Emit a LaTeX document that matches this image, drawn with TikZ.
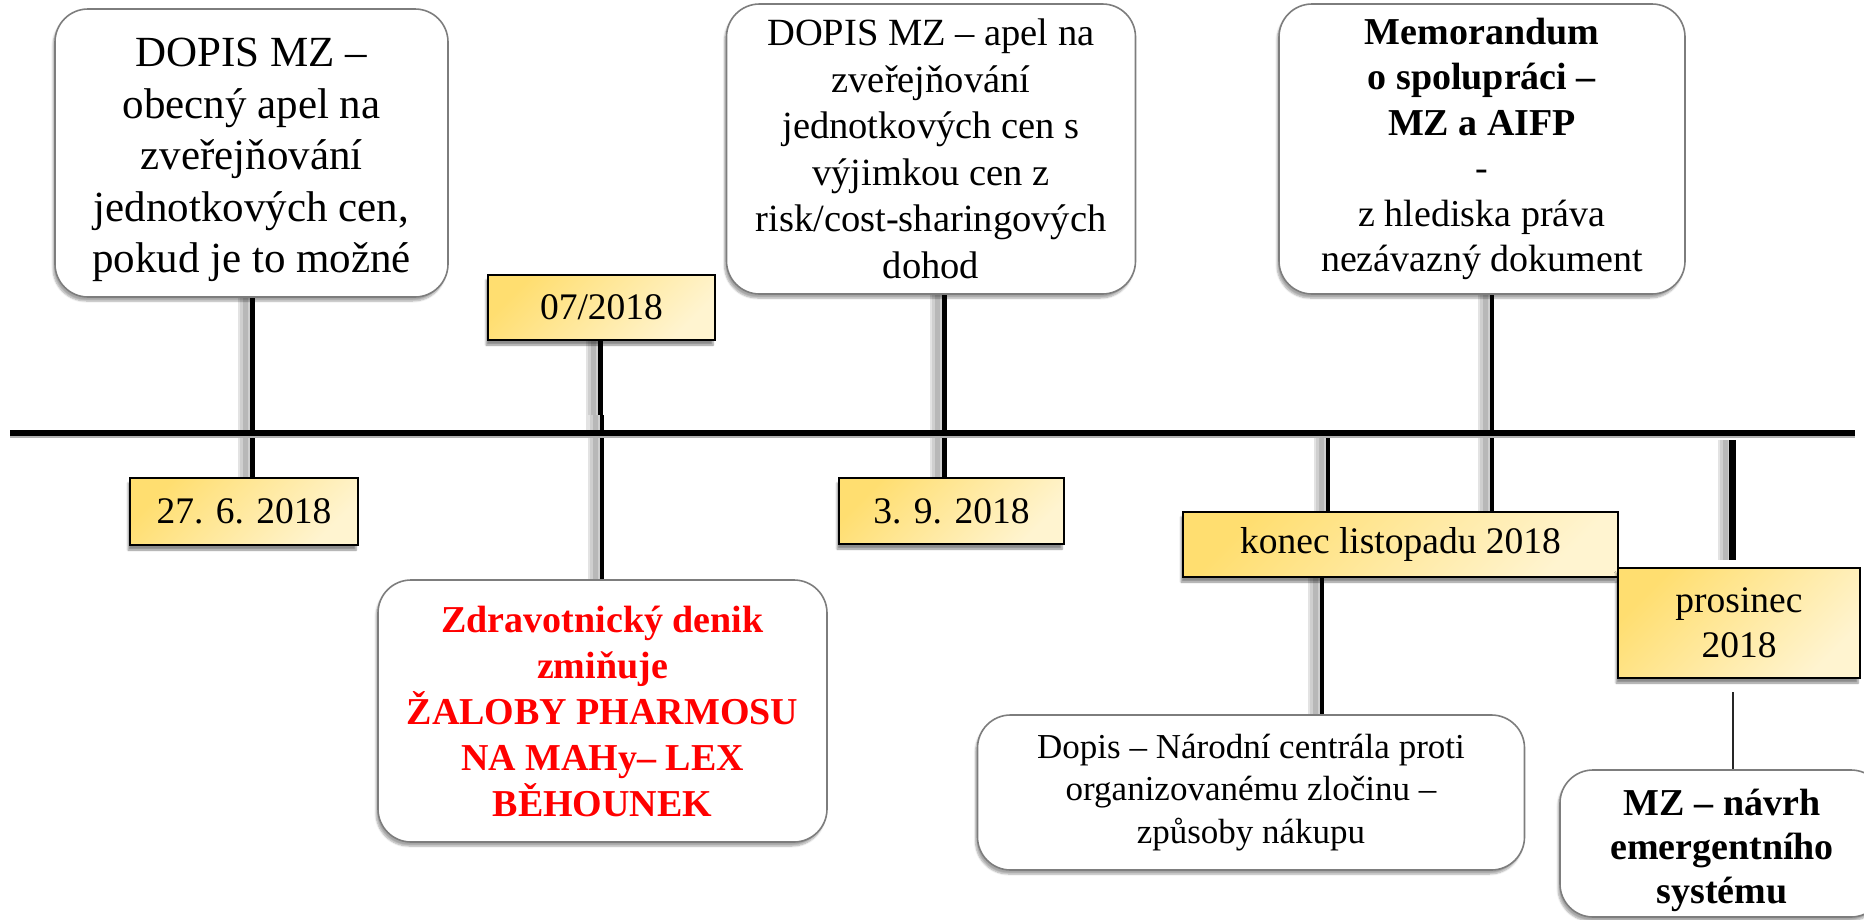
\documentclass[tikz,border=0pt]{standalone}
\usepackage{fontspec}
\setmainfont{Liberation Serif}
\usetikzlibrary{shadows.blur,backgrounds}
\definecolor{datetop}{RGB}{255,222,112}
\definecolor{datebot}{RGB}{255,244,208}
\definecolor{boxgray}{RGB}{125,125,125}
\definecolor{zred}{RGB}{255,0,0}
\tikzset{
  eventbox/.style={draw=boxgray, line width=1.6pt, fill=white, rounded corners=33pt,
    align=center, inner sep=0pt,
    blur shadow={shadow xshift=-2pt, shadow yshift=-4pt, shadow blur steps=6, shadow opacity=35}},
  boxtext/.style={align=center, inner sep=0pt},
  datebox/.style={draw=black, line width=2pt, top color=datetop, bottom color=datebot,
    shading angle=45, align=center, inner sep=0pt,
    blur shadow={shadow xshift=-2pt, shadow yshift=-5pt, shadow blur steps=6, shadow opacity=45},
    font=\fontsize{37.5}{45}\selectfont},
  conn/.style={line width=#1, black,
    preaction={draw=black!11, line width=15pt, transform canvas={xshift=-7pt}},
    preaction={draw=black!19, line width=10pt, transform canvas={xshift=-7pt}},
    preaction={draw=black!28, line width=5pt, transform canvas={xshift=-7pt}}},
  conn/.default=5pt,
  mainline/.style={line width=6pt, black,
    preaction={draw=black!30, line width=6pt, transform canvas={yshift=-2pt}}}
}
\begin{document}
\begin{tikzpicture}[x=1pt, y=-1pt]
\useasboundingbox (0,0) rectangle (1864,919);

% upper event boxes
\node[eventbox, minimum width=393pt, minimum height=288pt] (b1) at (251.5,153) {};
\node[boxtext, font=\fontsize{43}{51.6}\selectfont] (b1t) at (251.5,160)
  {DOPIS MZ –\\obecný apel na\\zveřejňování\\jednotkových cen,\\pokud je to možné};
\node[eventbox, minimum width=409pt, minimum height=290pt,
  font=\fontsize{38.5}{46.5}\selectfont] (b2) at (931,149)
  {DOPIS MZ – apel na\\zveřejňování\\jednotkových cen s\\výjimkou cen z\\risk/cost-sharingových\\dohod};
\node[eventbox, minimum width=406pt, minimum height=290pt,
  font=\fontsize{38}{45.5}\selectfont] (b3) at (1482,149)
  {\textbf{Memorandum}\\\textbf{o spolupráci –}\\\textbf{MZ a AIFP}\\-\\z hlediska práva\\nezávazný dokument};

% lower event boxes
\node[eventbox, minimum width=449pt, minimum height=262pt, text=zred,
  font=\bfseries\fontsize{38}{46}\selectfont] (z) at (602.5,711)
  {Zdravotnický denik\\zmiňuje\\ŽALOBY PHARMOSU\\NA MAHy– LEX\\BĚHOUNEK};
\node[eventbox, minimum width=547pt, minimum height=155pt,
  font=\fontsize{35}{42.5}\selectfont] (b4) at (1251,792.5)
  {Dopis – Národní centrála proti\\organizovanému zločinu –\\způsoby nákupu};
\node[eventbox, minimum width=324pt, minimum height=147pt] (b5) at (1722,843.5) {};
\node[boxtext, font=\bfseries\fontsize{38}{44}\selectfont] (b5t) at (1722,850)
  {MZ – návrh\\emergentního\\systému};

% date boxes
\node[datebox, minimum width=228pt, minimum height=67pt] (d0) at (244,511.5) {27. 6. 2018};
\node[datebox, minimum width=227pt, minimum height=65pt] (d1) at (601.5,307.5) {07/2018};
\node[datebox, minimum width=225pt, minimum height=66pt] (d2) at (951.5,511) {3. 9. 2018};
\node[datebox, minimum width=435pt, minimum height=65pt] (d3) at (1400.5,544.5) {konec listopadu 2018};
\node[datebox, minimum width=242pt, minimum height=110pt] (d4) at (1739,623) {prosinec\\2018};

% coordinates
\coordinate (L) at (10,433);
\coordinate (R) at (1855,433);
\coordinate (c0) at (252,433);
\coordinate (c1) at (600,433);
\coordinate (c1b) at (602,415);
\coordinate (c2) at (944,433);
\coordinate (c3) at (1328,433);
\coordinate (c3b) at (1322,433);
\coordinate (c4) at (1492,433);
\coordinate (c5top) at (1732,440);
\coordinate (c5bot) at (1732,560);
\coordinate (c6) at (1733,692);

\begin{scope}[on background layer]
\draw[conn] (c0 |- b1.south) -- (c0 |- d0.north);
\draw[conn] (c1 |- d1.south) -- (c1);
\draw[conn=4pt] (c1b) -- (c1b |- z.north);
\draw[conn] (c2 |- b2.south) -- (c2 |- d2.north);
\draw[conn=4pt] (c3) -- (c3 |- d3.north);
\draw[conn=4pt] (c4 |- b3.south) -- (c4 |- d3.north);
\draw[conn=4pt] (c3b |- d3.south) -- (c3b |- b4.north);
\draw[conn=7pt] (c5top) -- (c5bot);
\draw[line width=2pt, black!85] (c6) -- (c6 |- b5.north);
\draw[mainline] (L) -- (R);
\end{scope}
\end{tikzpicture}
\end{document}
